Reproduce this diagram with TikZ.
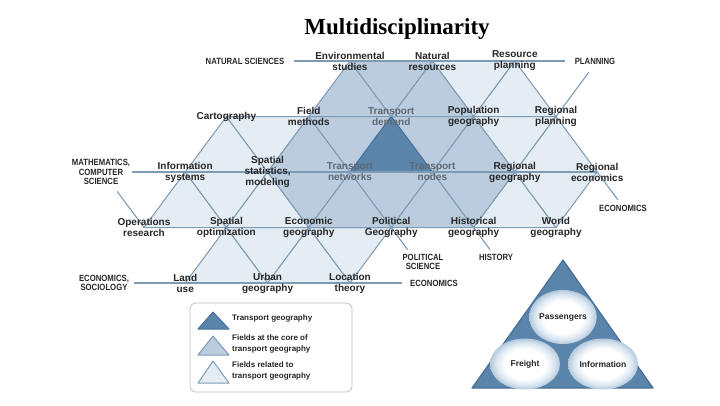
\documentclass[tikz,border=0pt]{standalone}
\usepackage{fontspec}
\setmainfont{Liberation Serif}
\newfontfamily\fieldfont{Liberation Sans}
\newfontfamily\discfont[FakeStretch=0.86]{Liberation Sans}
\usetikzlibrary{positioning,calc,backgrounds,shapes.geometric}
\definecolor{gridline}{HTML}{7E9BB4}
\definecolor{darkfill}{HTML}{5A84AA}
\definecolor{darkedge}{HTML}{46709A}
\definecolor{corefill}{HTML}{BACCDE}
\definecolor{relfill}{HTML}{E4ECF4}
\definecolor{labeltext}{HTML}{262626}
\definecolor{coretext}{HTML}{5E6873}
\definecolor{rimlight}{HTML}{D9E5F0}
\definecolor{rimblue}{HTML}{B4C9DD}
\pgfdeclareradialshading{blob}{\pgfpoint{0bp}{0bp}}{color(0bp)=(white); color(15bp)=(white); color(21bp)=(rimlight); color(25bp)=(rimblue); color(50bp)=(rimblue)}
\tikzset{
	field/.style={align=center,inner sep=1pt,text=labeltext,
		font=\fieldfont\bfseries\fontsize{10bp}{11bp}\selectfont},
	corefield/.style={field,text=coretext},
	discipline/.style={align=center,inner sep=2pt,text=labeltext,
		font=\discfont\bfseries\fontsize{9bp}{9.5bp}\selectfont},
	gridrule/.style={draw=gridline,line width=1.1bp},
	related/.style={fill=relfill,draw=gridline,line width=1bp,line join=round},
	core/.style={fill=corefill,draw=gridline,line width=1bp,line join=round},
	transport/.style={fill=darkfill,draw=darkedge,line width=1bp,line join=round},
	legendtext/.style={anchor=west,align=left,inner sep=0pt,text=labeltext,
		font=\fieldfont\bfseries\fontsize{8bp}{10.5bp}\selectfont},
	flowblob/.style={ellipse,shading=blob,inner sep=0pt,text=labeltext,
		font=\fieldfont\bfseries\fontsize{8.5bp}{10bp}\selectfont}
}

\begin{document}
\begin{tikzpicture}[x=1bp,y=-1bp]
	\useasboundingbox (0,0) rectangle (720,405);
	
	\node[anchor=base,font=\bfseries\fontsize{23bp}{26bp}\selectfont] (title) at (397,34) {Multidisciplinarity};
	
	\begin{scope}[shift={(350,172)},x=41.2bp,y=-55.5bp]
		\node[field] (envstud) at (0,-2) {Environmental\\studies};
		\node[field] (natres) at (2,-2) {Natural\\resources};
		\node[field] (respl) at (4,-2) {Resource\\planning};
		\node[field] (carto) at (-3,-1) {Cartography};
		\node[field] (fieldm) at (-1,-1) {Field\\methods};
		\node[corefield] (trdem) at (1,-1) {Transport\\demand};
		\node[field] (popgeo) at (3,-1) {Population\\geography};
		\node[field] (regpl) at (5,-1) {Regional\\planning};
		\node[field] (infosys) at (-4,0) {Information\\systems};
		\node[field] (spstat) at (-2,0) {Spatial\\statistics,\\modeling};
		\node[corefield] (trnet) at (0,0) {Transport\\networks};
		\node[corefield] (trnod) at (2,0) {Transport\\nodes};
		\node[field] (reggeo) at (4,0) {Regional\\geography};
		\node[field] (regecon) at (6,0) {Regional\\economics};
		\node[field] (opres) at (-5,1) {Operations\\research};
		\node[field] (spopt) at (-3,1) {Spatial\\optimization};
		\node[field] (econgeo) at (-1,1) {Economic\\geography};
		\node[field] (polgeo) at (1,1) {Political\\Geography};
		\node[field] (histgeo) at (3,1) {Historical\\geography};
		\node[field] (worldgeo) at (5,1) {World\\geography};
		\node[field] (landuse) at (-4,2) {Land\\use};
		\node[field] (urbgeo) at (-2,2) {Urban\\geography};
		\node[field] (loctheo) at (0,2) {Location\\theory};
		
		\coordinate (planend) at (5.8,-1.8);
		\coordinate (econend) at (6.5,0.5);
		\coordinate (polend) at (1.4,1.4);
		\coordinate (histend) at (3.4,1.4);
		\coordinate (mathend) at (-5.65,0.35);
	\end{scope}
	
	\node[discipline] (natsci) at (245,61) {NATURAL SCIENCES};
	\node[discipline] (planning) at (595,61) {PLANNING};
	\node[discipline] (mathcs) at (101,172) {MATHEMATICS,\\COMPUTER\\SCIENCE};
	\node[discipline] (econ1) at (623,208) {ECONOMICS};
	\node[discipline] (polsci) at (423,262) {POLITICAL\\SCIENCE};
	\node[discipline] (history) at (496,257) {HISTORY};
	\node[discipline] (econsoc) at (104,283) {ECONOMICS,\\SOCIOLOGY};
	\node[discipline] (econ2) at (434,283) {ECONOMICS};
	
	\begin{scope}[on background layer]
		\foreach \a/\b/\c in {natres/respl/popgeo,respl/popgeo/regpl,
			carto/infosys/spstat,carto/fieldm/spstat,popgeo/regpl/reggeo,
			regpl/reggeo/regecon,infosys/opres/spopt,infosys/spstat/spopt,
			spstat/spopt/econgeo,reggeo/histgeo/worldgeo,reggeo/regecon/worldgeo,
			spopt/landuse/urbgeo,spopt/econgeo/urbgeo,econgeo/urbgeo/loctheo,
			econgeo/polgeo/loctheo}
			\filldraw[related] (\a.center) -- (\b.center) -- (\c.center) -- cycle;
		\foreach \a/\b/\c in {envstud/fieldm/trdem,envstud/natres/trdem,
			natres/trdem/popgeo,fieldm/spstat/trnet,fieldm/trdem/trnet,
			trdem/trnod/popgeo,popgeo/trnod/reggeo,spstat/trnet/econgeo,
			trnet/econgeo/polgeo,trnet/trnod/polgeo,trnod/polgeo/histgeo,
			trnod/reggeo/histgeo}
			\filldraw[core] (\a.center) -- (\b.center) -- (\c.center) -- cycle;
		\filldraw[transport] (trdem.center) -- (trnet.center) -- (trnod.center) -- cycle;
		
		\draw[gridrule,shorten <=8bp,shorten >=8bp] (natsci.east) -- (planning.west);
		\draw[gridrule] (carto.east) -- (regpl.center);
		\draw[gridrule] (mathcs.east) -- (regecon.center);
		\draw[gridrule] (opres.center) -- (worldgeo.center);
		\draw[gridrule,shorten <=3bp,shorten >=6bp] (econsoc.east) -- (econ2.west);
		\draw[gridrule] (regpl.center) -- (planend);
		\draw[gridrule] (regecon.center) -- (econend);
		\draw[gridrule] (polgeo.center) -- (polend);
		\draw[gridrule] (histgeo.center) -- (histend);
		\draw[gridrule] (mathend) -- (opres.center);
	\end{scope}
	
	% legend
	\draw[draw=black!25,line width=0.8bp,rounded corners=6bp] (190,303) rectangle (352,392);
	\filldraw[transport] (213,312) -- (229,329) -- (198,329) -- cycle;
	\filldraw[fill=corefill,draw=gridline,line width=1bp,line join=round] (213,336) -- (229,355) -- (198,355) -- cycle;
	\filldraw[fill=relfill,draw=gridline,line width=1bp,line join=round] (213,361) -- (229,383) -- (198,383) -- cycle;
	\node[legendtext] (lgdark) at (232,318) {Transport geography};
	\node[legendtext] (lgcore) at (232,344) {Fields at the core of\\transport geography};
	\node[legendtext] (lgrel) at (232,371) {Fields related to\\transport geography};
	
	% flows
	\filldraw[fill=darkfill,draw=darkedge,line width=1.2bp,line join=round] (563,260) -- (653,388) -- (472,388) -- cycle;
	\node[flowblob,minimum width=62bp,minimum height=54bp] (pass) at (563,317) {Passengers};
	\node[flowblob,minimum width=70bp,minimum height=51bp] (freight) at (525,364) {Freight};
	\node[flowblob,minimum width=70bp,minimum height=51bp] (info) at (603,364) {Information};
\end{tikzpicture}
\end{document}
